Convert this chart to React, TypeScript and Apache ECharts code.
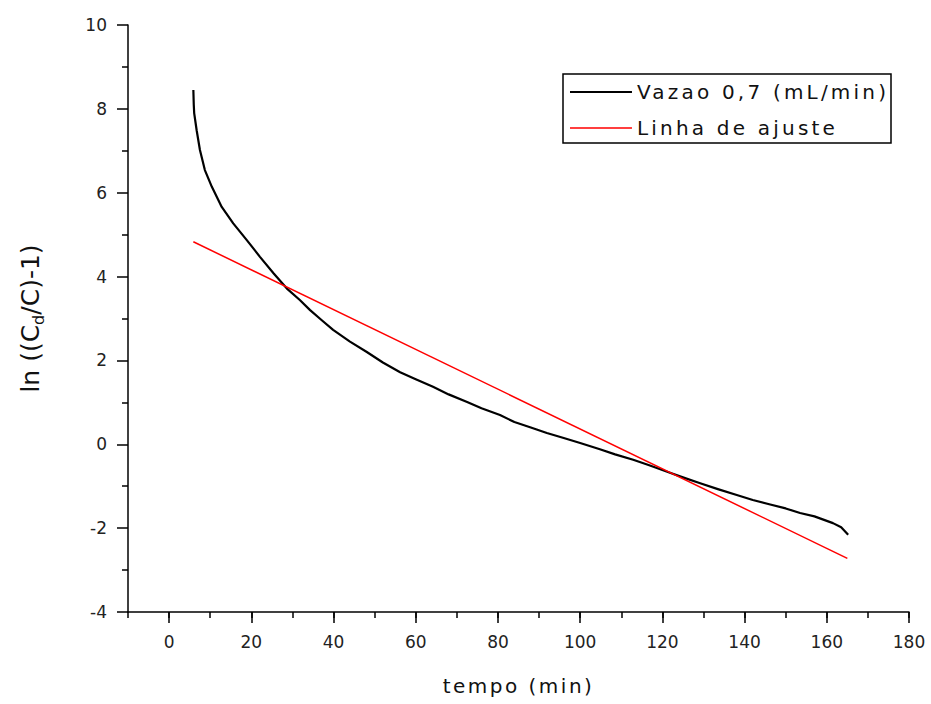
import React, { useEffect, useRef } from "react";
import * as echarts from "echarts";

const seriesNames = ["Vazao 0,7 (mL/min)", "Linha de ajuste"];
const xTickLabels = [0, 20, 40, 60, 80, 100, 120, 140, 160, 180];
const blackX = [5.9, 6.0, 6.1, 6.7, 7.5, 8.7, 10.4, 12.8, 15.6, 18.9, 22.1, 25.4, 28.6, 31.8, 34.3, 37, 39.9, 44, 48.1, 52, 56.2, 60, 64.2, 68, 72.5, 76, 80.5, 84, 88, 91.9, 96, 100, 104.8, 108.5, 112.9, 116.8, 121, 125, 129.2, 133.5, 138.1, 142, 146, 150, 153.5, 157, 161.5, 163.5, 165.2];
const blackY = [8.45, 8.1, 7.9, 7.49, 7.02, 6.54, 6.14, 5.66, 5.27, 4.87, 4.47, 4.08, 3.72, 3.44, 3.2, 2.97, 2.73, 2.45, 2.2, 1.95, 1.72, 1.55, 1.37, 1.19, 1.01, 0.86, 0.7, 0.53, 0.4, 0.27, 0.15, 0.03, -0.12, -0.24, -0.37, -0.5, -0.65, -0.79, -0.93, -1.07, -1.21, -1.33, -1.43, -1.53, -1.64, -1.72, -1.88, -1.98, -2.16];
const fitX = [5.9, 165];
const fitY = [4.83, -2.72];

const FONT = "DejaVu Sans";

export default function App() {
  const ref = useRef<HTMLDivElement>(null);
  useEffect(() => {
    if (!ref.current) return;
    const chart = echarts.init(ref.current, null, { renderer: "svg" });
    const axisLine = { show: true, onZero: false, lineStyle: { color: "#000", width: 1.5 } };
    const option: any = {
      animation: false,
      backgroundColor: "#fff",
      grid: { left: 128, right: 22, top: 25, bottom: 92 },
      legend: {
        orient: "vertical",
        left: 570,
        top: 82,
        padding: 0,
        itemWidth: 62,
        itemHeight: 20,
        itemGap: 16,
        data: [
          { name: seriesNames[0], icon: "path://M0,0h0.01v0.01h-0.01z M0,9h62v2h-62z M0,20h0.01v0.01h-0.01z" },
          { name: seriesNames[1], icon: "path://M0,0h0.01v0.01h-0.01z M0,9.25h62v1.5h-62z M0,20h0.01v0.01h-0.01z" },
        ],
        textStyle: { fontFamily: FONT, fontSize: 20, color: "#111" },
      },
      graphic: [
        {
          type: "rect",
          shape: { x: 563, y: 74, width: 328, height: 69 },
          style: { fill: "none", stroke: "#000", lineWidth: 1.5 },
          silent: true,
        },
      ],
      xAxis: [
        {
          type: "value",
          min: -10,
          max: 180,
          interval: 10,
          position: "bottom",
          axisLine,
          axisTick: { show: true, length: 6, lineStyle: { color: "#000", width: 1.5 } },
          axisLabel: {
            show: true,
            customValues: xTickLabels,
            fontFamily: FONT,
            fontSize: 17,
            color: "#222",
            margin: 21,
          },
          splitLine: { show: false },
          name: "tempo (min)",
          nameLocation: "middle",
          nameGap: 64,
          nameTextStyle: { fontFamily: FONT, fontSize: 20, color: "#111" },
        },
        {
          type: "value",
          min: -10,
          max: 180,
          interval: 10,
          position: "bottom",
          axisLine: { show: false, onZero: false },
          axisTick: { show: true, customValues: xTickLabels, length: 11, lineStyle: { color: "#000", width: 1.5 } },
          axisLabel: { show: false },
          splitLine: { show: false },
        },
      ],
      yAxis: {
        type: "value",
        min: -4,
        max: 10,
        interval: 2,
        axisLine,
        axisTick: { show: true, length: 11, lineStyle: { color: "#000", width: 1.5 } },
        minorTick: { show: true, splitNumber: 2, length: 6, lineStyle: { color: "#000", width: 1.5 } },
        axisLabel: { fontFamily: FONT, fontSize: 17, color: "#222", margin: 21 },
        splitLine: { show: false },
        minorSplitLine: { show: false },
        name: "ln ((C{sub|d}/C)-1)",
        nameLocation: "middle",
        nameGap: 82,
        nameTextStyle: {
          fontFamily: FONT,
          fontSize: 25,
          color: "#111",
          lineHeight: 32,
          rich: {
            sub: { fontFamily: FONT, fontSize: 16, lineHeight: 16, verticalAlign: "bottom", color: "#111" },
          },
        },
      },
      series: [
        {
          name: seriesNames[0],
          type: "line",
          xAxisIndex: 0,
          data: blackX.map((x, i) => [x, blackY[i]]),
          symbol: "none",
          lineStyle: { color: "#000", width: 2.2, join: "round" },
          itemStyle: { color: "#000" },
        },
        {
          name: seriesNames[1],
          type: "line",
          xAxisIndex: 0,
          data: fitX.map((x, i) => [x, fitY[i]]),
          symbol: "none",
          lineStyle: { color: "#ff0000", width: 1.5 },
          itemStyle: { color: "#ff0000" },
        },
      ],
    };
    chart.setOption(option);
    const spacing: Record<string, string> = {
      "Vazao 0,7 (mL/min)": "3.2px",
      "Linha de ajuste": "3.2px",
      "tempo (min)": "2.5px",
    };
    ref.current.querySelectorAll("text").forEach((t) => {
      const s = spacing[(t.textContent || "").trim()];
      if (s) (t as SVGTextElement).style.letterSpacing = s;
    });
    return () => chart.dispose();
  }, []);
  return (
    <div
      ref={ref}
      style={{ position: "absolute", left: 0, top: 0, width: 931, height: 704 }}
    />
  );
}
